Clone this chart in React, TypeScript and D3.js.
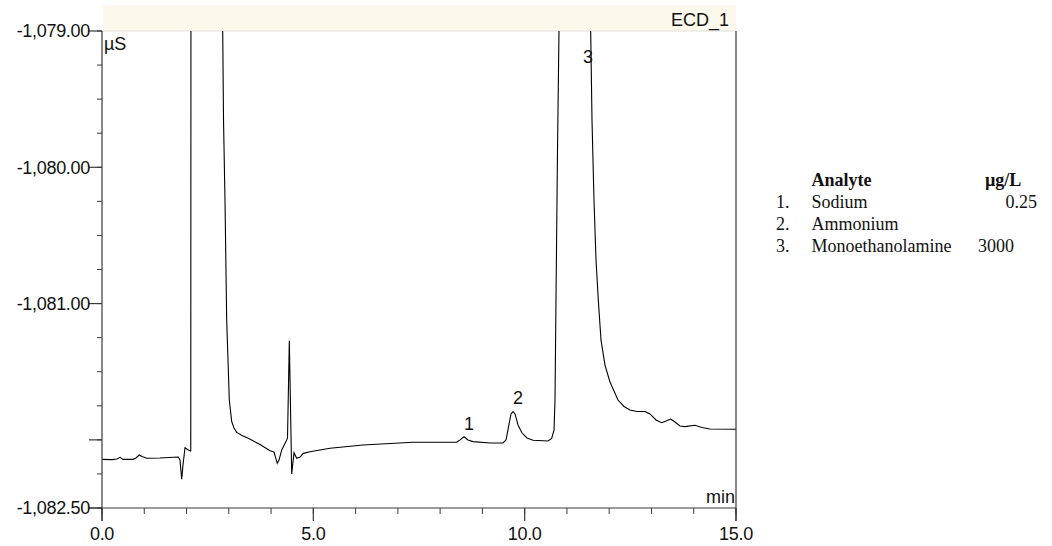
import React from "react";
import * as d3 from "d3";

// Chromatogram trace (time in min, conductivity in µS)
const times = [
  0, 0.237, 0.355, 0.426, 0.497, 0.733, 0.804, 0.882, 0.946, 1.058, 1.372, 1.805, 1.845, 1.886, 1.916, 1.964, 2.042, 2.094,
  2.1, 2.106, 2.85, 2.856, 2.875, 2.91, 2.95, 3.012, 3.069, 3.123, 3.187, 3.312, 3.461, 3.738, 3.975, 4.069, 4.147, 4.188,
  4.252, 4.37, 4.389, 4.432, 4.488, 4.543, 4.606, 4.685, 4.763, 4.921, 5.394, 6.175, 7.358, 8.392, 8.47, 8.565, 8.659,
  8.778, 9.18, 9.488, 9.559, 9.63, 9.677, 9.725, 9.772, 9.843, 9.938, 10.056, 10.197, 10.552, 10.639, 10.694, 10.718,
  10.741, 10.777, 10.812, 10.824, 11.557, 11.562, 11.593, 11.64, 11.688, 11.742, 11.806, 11.9, 12.019, 12.208, 12.35,
  12.492, 12.657, 12.846, 12.965, 13.107, 13.242, 13.343, 13.455, 13.556, 13.674, 13.793, 14.029, 14.195, 14.384, 15.0,
];
const values = [
  -1082.143, -1082.145, -1082.14, -1082.128, -1082.143, -1082.143, -1082.133, -1082.111, -1082.122, -1082.135, -1082.133,
  -1082.126, -1082.148, -1082.289, -1082.184, -1082.058, -1082.074, -1082.082,
  -1082.08, -1077.5, -1077.5, -1079.0, -1079.653, -1080.24, -1081.121, -1081.708, -1081.867, -1081.913, -1081.945,
  -1081.968, -1081.989, -1082.034, -1082.08, -1082.089, -1082.172, -1082.148,
  -1082.074, -1082.001, -1081.986, -1081.272, -1082.25, -1082.094, -1082.135, -1082.126, -1082.099, -1082.087, -1082.062,
  -1082.038, -1082.018, -1082.018, -1082.0, -1081.977, -1082.001,
  -1082.013, -1082.023, -1082.023, -1082.001, -1081.884, -1081.81, -1081.793, -1081.81, -1081.891, -1081.95, -1081.986,
  -1082.003, -1082.008, -1081.989, -1081.928, -1081.708,
  -1080.974, -1079.873, -1079.0, -1077.5, -1077.5, -1079.0, -1079.653, -1080.24, -1080.68, -1080.974, -1081.267,
  -1081.451, -1081.575, -1081.708, -1081.755,
  -1081.781, -1081.792, -1081.792, -1081.81, -1081.854, -1081.874, -1081.862, -1081.847, -1081.869, -1081.898,
  -1081.903, -1081.893, -1081.909, -1081.92, -1081.922,
];

// Peak labels
const peakLabels = ["1", "2", "3"];
const peakLabelTimes = [8.683, 9.842, 11.498];
const peakLabelValues = [-1081.928, -1081.737, -1079.235];

// Axis ticks
const yLabelTicks = [-1079, -1080, -1081, -1082.5];
const yMajorTicks = [-1079, -1080, -1081, -1082, -1082.5];
const yMinorStep = 0.25;
const xLabelTicks = [0, 5, 10, 15];
const xMinorStep = 1;

// Legend table
const analyteNumbers = ["1.", "2.", "3."];
const analyteNames = ["Sodium", "Ammonium", "Monoethanolamine"];
const analyteConc = ["0.25", "", "3000"];

const W = 1052;
const H = 546;
const L = 102;
const R = 736;
const T = 31;
const B = 508;

export default function App() {
  const x = d3.scaleLinear().domain([0, 15]).range([L, R]);
  const y = d3.scaleLinear().domain([-1082.5, -1079]).range([B, T]);
  const pts: [number, number][] = times.map((t, i) => [t, values[i]]);
  const line = d3
    .line<[number, number]>()
    .x((d) => x(d[0]))
    .y((d) => y(d[1]));

  const yMinor = d3.range(-1082.5, -1079 + 1e-9, yMinorStep);
  const xMinor = d3.range(0, 15 + 1e-9, xMinorStep);
  const fmtY = (v: number) => d3.format(",.2f")(v).replace("\u2212", "-");
  const fmtX = d3.format(".1f");
  const sans = "'Liberation Sans', Arial, sans-serif";
  const serif = "'Liberation Serif', 'Times New Roman', serif";
  const axisColor = "#3a3a3a";

  return (
    <div style={{ position: "absolute", left: 0, top: 0 }}>
      <svg width={W} height={H} style={{ display: "block", background: "#fff" }}>
        <defs>
          <clipPath id="plotClip">
            <rect x={L} y={T} width={R - L} height={B - T} />
          </clipPath>
        </defs>
        {/* header bar */}
        <rect x={L + 1} y={5} width={R - L - 1} height={T - 5} fill="#fdf8ec" />
        <line x1={L} x2={R} y1={T} y2={T} stroke="#e4e0d6" strokeWidth={1} />
        <text x={R - 7} y={26} textAnchor="end" fontFamily={sans} fontSize={18} fill="#111">
          ECD_1
        </text>

        {/* trace */}
        <path d={line(pts) || ""} fill="none" stroke="#000" strokeWidth={1.1} clipPath="url(#plotClip)" />

        {/* axes */}
        <line x1={L} x2={L} y1={T} y2={B + 13} stroke={axisColor} strokeWidth={1.2} />
        <line x1={R} x2={R} y1={T} y2={B + 13} stroke={axisColor} strokeWidth={1.2} />
        <line x1={L - 13} x2={R} y1={B} y2={B} stroke={axisColor} strokeWidth={1.2} />
        {yMinor.map((v, i) => (
          <line key={"ym" + i} x1={L - 5} x2={L} y1={y(v)} y2={y(v)} stroke={axisColor} strokeWidth={1} />
        ))}
        {yMajorTicks.map((v, i) => (
          <line key={"yM" + i} x1={L - 13} x2={L} y1={y(v)} y2={y(v)} stroke={axisColor} strokeWidth={1.2} />
        ))}
        {yLabelTicks.map((v, i) => (
          <text
            key={"yl" + i}
            x={L - 12}
            y={y(v)}
            dy="0.36em"
            textAnchor="end"
            fontFamily={sans}
            fontSize={18}
            letterSpacing={-0.3}
            fill="#111"
          >
            {fmtY(v)}
          </text>
        ))}
        {xMinor.map((v, i) => (
          <line key={"xm" + i} x1={x(v)} x2={x(v)} y1={B} y2={B + 6} stroke={axisColor} strokeWidth={1} />
        ))}
        {xLabelTicks.map((v, i) => (
          <g key={"xl" + i}>
            <line x1={x(v)} x2={x(v)} y1={B} y2={B + 13} stroke={axisColor} strokeWidth={1.2} />
            <text x={x(v)} y={540} textAnchor="middle" fontFamily={sans} fontSize={18} letterSpacing={-0.3} fill="#111">
              {fmtX(v)}
            </text>
          </g>
        ))}
        <text x={L + 2} y={50} fontFamily={sans} fontSize={18} fill="#111">
          µS
        </text>
        <text x={R - 1} y={503} textAnchor="end" fontFamily={sans} fontSize={18} fill="#111">
          min
        </text>

        {/* peak labels */}
        {peakLabels.map((p, i) => (
          <text
            key={"pl" + i}
            x={x(peakLabelTimes[i])}
            y={y(peakLabelValues[i])}
            textAnchor="middle"
            fontFamily={sans}
            fontSize={18}
            fill="#111"
          >
            {p}
          </text>
        ))}

        {/* legend table */}
        <g fontFamily={serif} fontSize={18} fill="#111">
          <text x={811.5} y={186} fontWeight="bold">
            Analyte
          </text>
          <text x={985} y={186} fontWeight="bold">
            µg/L
          </text>
          {analyteNames.map((n, i) => (
            <g key={"lg" + i}>
              <text x={776} y={208 + i * 22}>
                {analyteNumbers[i]}
              </text>
              <text x={811.5} y={208 + i * 22}>
                {n}
              </text>
              {analyteConc[i] && i === 0 ? (
                <text x={1037} y={208 + i * 22} textAnchor="end">
                  {analyteConc[i]}
                </text>
              ) : null}
              {analyteConc[i] && i !== 0 ? (
                <text x={978} y={208 + i * 22}>
                  {analyteConc[i]}
                </text>
              ) : null}
            </g>
          ))}
        </g>
      </svg>
    </div>
  );
}
